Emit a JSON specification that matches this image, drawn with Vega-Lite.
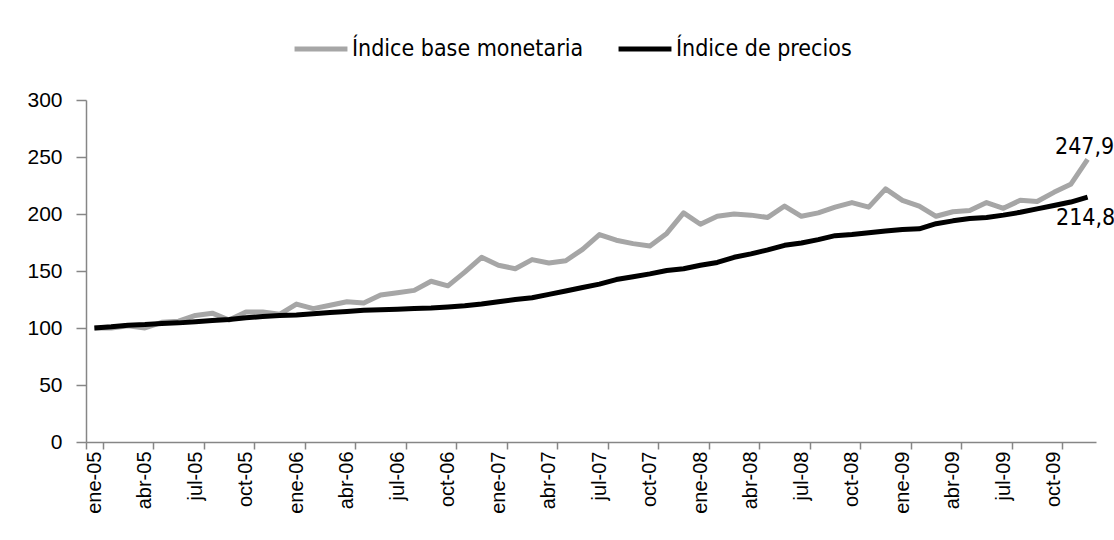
{
  "$schema": "https://vega.github.io/schema/vega-lite/v6.json",
  "width": 1010,
  "height": 342,
  "autosize": {"type": "none"},
  "padding": {"left": 86, "top": 100, "right": 18, "bottom": 98},
  "background": "white",
  "config": {
    "view": {"stroke": null},
    "font": "Liberation Sans"
  },
  "datasets": {
    "series": [
      {"mes": "ene-05", "serie": "Índice base monetaria", "valor": 100},
      {"mes": "feb-05", "serie": "Índice base monetaria", "valor": 100},
      {"mes": "mar-05", "serie": "Índice base monetaria", "valor": 102},
      {"mes": "abr-05", "serie": "Índice base monetaria", "valor": 100},
      {"mes": "may-05", "serie": "Índice base monetaria", "valor": 105},
      {"mes": "jun-05", "serie": "Índice base monetaria", "valor": 106},
      {"mes": "jul-05", "serie": "Índice base monetaria", "valor": 111},
      {"mes": "ago-05", "serie": "Índice base monetaria", "valor": 113},
      {"mes": "sep-05", "serie": "Índice base monetaria", "valor": 107},
      {"mes": "oct-05", "serie": "Índice base monetaria", "valor": 114},
      {"mes": "nov-05", "serie": "Índice base monetaria", "valor": 114},
      {"mes": "dic-05", "serie": "Índice base monetaria", "valor": 112},
      {"mes": "ene-06", "serie": "Índice base monetaria", "valor": 121},
      {"mes": "feb-06", "serie": "Índice base monetaria", "valor": 117},
      {"mes": "mar-06", "serie": "Índice base monetaria", "valor": 120},
      {"mes": "abr-06", "serie": "Índice base monetaria", "valor": 123},
      {"mes": "may-06", "serie": "Índice base monetaria", "valor": 122},
      {"mes": "jun-06", "serie": "Índice base monetaria", "valor": 129},
      {"mes": "jul-06", "serie": "Índice base monetaria", "valor": 131},
      {"mes": "ago-06", "serie": "Índice base monetaria", "valor": 133},
      {"mes": "sep-06", "serie": "Índice base monetaria", "valor": 141},
      {"mes": "oct-06", "serie": "Índice base monetaria", "valor": 137},
      {"mes": "nov-06", "serie": "Índice base monetaria", "valor": 149},
      {"mes": "dic-06", "serie": "Índice base monetaria", "valor": 162},
      {"mes": "ene-07", "serie": "Índice base monetaria", "valor": 155},
      {"mes": "feb-07", "serie": "Índice base monetaria", "valor": 152},
      {"mes": "mar-07", "serie": "Índice base monetaria", "valor": 160},
      {"mes": "abr-07", "serie": "Índice base monetaria", "valor": 157},
      {"mes": "may-07", "serie": "Índice base monetaria", "valor": 159},
      {"mes": "jun-07", "serie": "Índice base monetaria", "valor": 169},
      {"mes": "jul-07", "serie": "Índice base monetaria", "valor": 182},
      {"mes": "ago-07", "serie": "Índice base monetaria", "valor": 177},
      {"mes": "sep-07", "serie": "Índice base monetaria", "valor": 174},
      {"mes": "oct-07", "serie": "Índice base monetaria", "valor": 172},
      {"mes": "nov-07", "serie": "Índice base monetaria", "valor": 183},
      {"mes": "dic-07", "serie": "Índice base monetaria", "valor": 201},
      {"mes": "ene-08", "serie": "Índice base monetaria", "valor": 191},
      {"mes": "feb-08", "serie": "Índice base monetaria", "valor": 198},
      {"mes": "mar-08", "serie": "Índice base monetaria", "valor": 200},
      {"mes": "abr-08", "serie": "Índice base monetaria", "valor": 199},
      {"mes": "may-08", "serie": "Índice base monetaria", "valor": 197},
      {"mes": "jun-08", "serie": "Índice base monetaria", "valor": 207},
      {"mes": "jul-08", "serie": "Índice base monetaria", "valor": 198},
      {"mes": "ago-08", "serie": "Índice base monetaria", "valor": 201},
      {"mes": "sep-08", "serie": "Índice base monetaria", "valor": 206},
      {"mes": "oct-08", "serie": "Índice base monetaria", "valor": 210},
      {"mes": "nov-08", "serie": "Índice base monetaria", "valor": 206},
      {"mes": "dic-08", "serie": "Índice base monetaria", "valor": 222},
      {"mes": "ene-09", "serie": "Índice base monetaria", "valor": 212},
      {"mes": "feb-09", "serie": "Índice base monetaria", "valor": 207},
      {"mes": "mar-09", "serie": "Índice base monetaria", "valor": 198},
      {"mes": "abr-09", "serie": "Índice base monetaria", "valor": 202},
      {"mes": "may-09", "serie": "Índice base monetaria", "valor": 203},
      {"mes": "jun-09", "serie": "Índice base monetaria", "valor": 210},
      {"mes": "jul-09", "serie": "Índice base monetaria", "valor": 205},
      {"mes": "ago-09", "serie": "Índice base monetaria", "valor": 212},
      {"mes": "sep-09", "serie": "Índice base monetaria", "valor": 211},
      {"mes": "oct-09", "serie": "Índice base monetaria", "valor": 219},
      {"mes": "nov-09", "serie": "Índice base monetaria", "valor": 226},
      {"mes": "dic-09", "serie": "Índice base monetaria", "valor": 247.9},
      {"mes": "ene-05", "serie": "Índice de precios", "valor": 100},
      {"mes": "feb-05", "serie": "Índice de precios", "valor": 101},
      {"mes": "mar-05", "serie": "Índice de precios", "valor": 102.5},
      {"mes": "abr-05", "serie": "Índice de precios", "valor": 103},
      {"mes": "may-05", "serie": "Índice de precios", "valor": 104},
      {"mes": "jun-05", "serie": "Índice de precios", "valor": 104.5},
      {"mes": "jul-05", "serie": "Índice de precios", "valor": 105.5},
      {"mes": "ago-05", "serie": "Índice de precios", "valor": 106.5},
      {"mes": "sep-05", "serie": "Índice de precios", "valor": 107.5},
      {"mes": "oct-05", "serie": "Índice de precios", "valor": 109},
      {"mes": "nov-05", "serie": "Índice de precios", "valor": 110},
      {"mes": "dic-05", "serie": "Índice de precios", "valor": 111},
      {"mes": "ene-06", "serie": "Índice de precios", "valor": 111.5},
      {"mes": "feb-06", "serie": "Índice de precios", "valor": 112.5},
      {"mes": "mar-06", "serie": "Índice de precios", "valor": 113.5},
      {"mes": "abr-06", "serie": "Índice de precios", "valor": 114.5},
      {"mes": "may-06", "serie": "Índice de precios", "valor": 115.5},
      {"mes": "jun-06", "serie": "Índice de precios", "valor": 116},
      {"mes": "jul-06", "serie": "Índice de precios", "valor": 116.5},
      {"mes": "ago-06", "serie": "Índice de precios", "valor": 117},
      {"mes": "sep-06", "serie": "Índice de precios", "valor": 117.5},
      {"mes": "oct-06", "serie": "Índice de precios", "valor": 118.5},
      {"mes": "nov-06", "serie": "Índice de precios", "valor": 119.5},
      {"mes": "dic-06", "serie": "Índice de precios", "valor": 121},
      {"mes": "ene-07", "serie": "Índice de precios", "valor": 123},
      {"mes": "feb-07", "serie": "Índice de precios", "valor": 125},
      {"mes": "mar-07", "serie": "Índice de precios", "valor": 126.5},
      {"mes": "abr-07", "serie": "Índice de precios", "valor": 129.5},
      {"mes": "may-07", "serie": "Índice de precios", "valor": 132.5},
      {"mes": "jun-07", "serie": "Índice de precios", "valor": 135.5},
      {"mes": "jul-07", "serie": "Índice de precios", "valor": 138.5},
      {"mes": "ago-07", "serie": "Índice de precios", "valor": 142.5},
      {"mes": "sep-07", "serie": "Índice de precios", "valor": 145},
      {"mes": "oct-07", "serie": "Índice de precios", "valor": 147.5},
      {"mes": "nov-07", "serie": "Índice de precios", "valor": 150.5},
      {"mes": "dic-07", "serie": "Índice de precios", "valor": 152},
      {"mes": "ene-08", "serie": "Índice de precios", "valor": 155},
      {"mes": "feb-08", "serie": "Índice de precios", "valor": 157.5},
      {"mes": "mar-08", "serie": "Índice de precios", "valor": 162},
      {"mes": "abr-08", "serie": "Índice de precios", "valor": 165},
      {"mes": "may-08", "serie": "Índice de precios", "valor": 168.5},
      {"mes": "jun-08", "serie": "Índice de precios", "valor": 172.5},
      {"mes": "jul-08", "serie": "Índice de precios", "valor": 174.5},
      {"mes": "ago-08", "serie": "Índice de precios", "valor": 177.5},
      {"mes": "sep-08", "serie": "Índice de precios", "valor": 181},
      {"mes": "oct-08", "serie": "Índice de precios", "valor": 182},
      {"mes": "nov-08", "serie": "Índice de precios", "valor": 183.5},
      {"mes": "dic-08", "serie": "Índice de precios", "valor": 185},
      {"mes": "ene-09", "serie": "Índice de precios", "valor": 186.5},
      {"mes": "feb-09", "serie": "Índice de precios", "valor": 187},
      {"mes": "mar-09", "serie": "Índice de precios", "valor": 191.5},
      {"mes": "abr-09", "serie": "Índice de precios", "valor": 194},
      {"mes": "may-09", "serie": "Índice de precios", "valor": 196},
      {"mes": "jun-09", "serie": "Índice de precios", "valor": 197},
      {"mes": "jul-09", "serie": "Índice de precios", "valor": 199},
      {"mes": "ago-09", "serie": "Índice de precios", "valor": 201.5},
      {"mes": "sep-09", "serie": "Índice de precios", "valor": 204.5},
      {"mes": "oct-09", "serie": "Índice de precios", "valor": 207.5},
      {"mes": "nov-09", "serie": "Índice de precios", "valor": 210.5},
      {"mes": "dic-09", "serie": "Índice de precios", "valor": 214.8}
    ]
  },
  "layer": [
    {
      "data": {"name": "series"},
      "mark": {"type": "line", "strokeWidth": 5, "strokeJoin": "round", "strokeCap": "butt"},
      "encoding": {
        "x": {
          "field": "mes", "type": "ordinal", "sort": null, "bandPosition": 0.5,
          "scale": {"type": "band", "paddingInner": 0, "paddingOuter": 0},
          "axis": {
            "title": null,
            "values": ["ene-05","abr-05","jul-05","oct-05","ene-06","abr-06","jul-06","oct-06","ene-07","abr-07","jul-07","oct-07","ene-08","abr-08","jul-08","oct-08","ene-09","abr-09","jul-09","oct-09"],
            "tickBand": "extent",
            "labelAngle": -90,
            "labelFont": "Liberation Sans",
            "labelFontSize": 20,
            "labelColor": "#000000",
            "labelPadding": 2,
            "tickSize": 7,
            "tickColor": "#868686",
            "tickWidth": 1.5,
            "domainColor": "#868686",
            "domainWidth": 1.5,
            "grid": false
          }
        },
        "y": {
          "field": "valor", "type": "quantitative",
          "scale": {"domain": [0, 300], "nice": false, "zero": true},
          "axis": {
            "title": null,
            "values": [0, 50, 100, 150, 200, 250, 300],
            "labelFont": "Liberation Sans",
            "labelFontSize": 21,
            "labelColor": "#000000",
            "labelPadding": 14,
            "tickSize": 10,
            "tickColor": "#868686",
            "tickWidth": 1.5,
            "domainColor": "#868686",
            "domainWidth": 1.5,
            "grid": false
          }
        },
        "color": {
          "field": "serie", "type": "nominal",
          "scale": {"domain": ["Índice base monetaria", "Índice de precios"], "range": ["#a6a6a6", "#000000"]},
          "legend": {
            "title": null,
            "orient": "none",
            "legendX": 206,
            "legendY": -80,
            "direction": "horizontal",
            "symbolType": "stroke",
            "symbolStrokeWidth": 5,
            "symbolSize": 2800,
            "labelFont": "DejaVu Sans Condensed, Liberation Sans",
            "labelFontSize": 23,
            "labelLimit": 500,
            "labelColor": "#000000",
            "labelOffset": 2,
            "columnPadding": 24
          }
        }
      }
    },
    {
      "data": {"values": [{"mes": "dic-09", "valor": 247.9, "label": "247,9"}]},
      "mark": {"type": "text", "font": "DejaVu Sans Condensed, Liberation Sans", "fontSize": 23, "align": "center", "baseline": "middle", "dx": -3, "dy": -12, "color": "#000000"},
      "encoding": {
        "x": {"field": "mes", "type": "ordinal", "sort": null, "bandPosition": 0.5},
        "y": {"field": "valor", "type": "quantitative"},
        "text": {"field": "label"}
      }
    },
    {
      "data": {"values": [{"mes": "dic-09", "valor": 214.8, "label": "214,8"}]},
      "mark": {"type": "text", "font": "DejaVu Sans Condensed, Liberation Sans", "fontSize": 23, "align": "center", "baseline": "middle", "dx": -2, "dy": 21, "color": "#000000"},
      "encoding": {
        "x": {"field": "mes", "type": "ordinal", "sort": null, "bandPosition": 0.5},
        "y": {"field": "valor", "type": "quantitative"},
        "text": {"field": "label"}
      }
    }
  ]
}
